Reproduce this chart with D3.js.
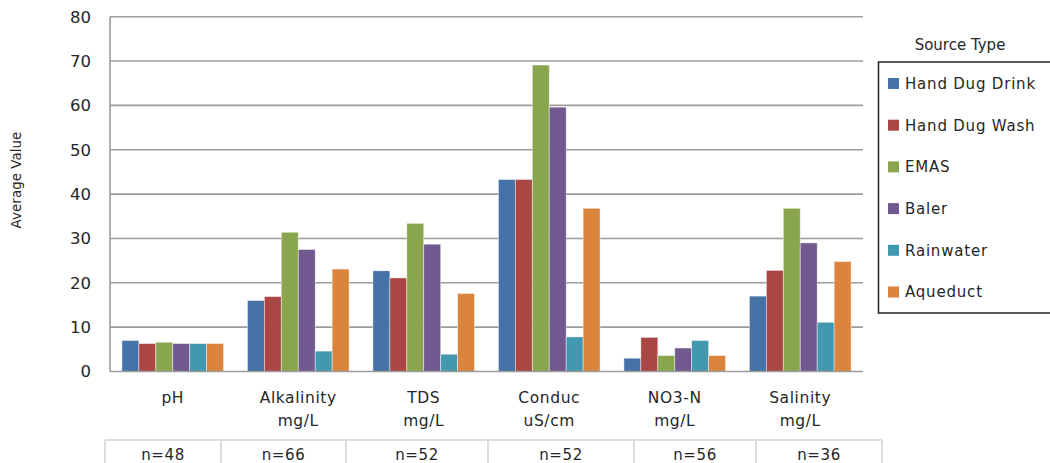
<!DOCTYPE html>
<html><head><meta charset="utf-8">
<script src="https://cdn.jsdelivr.net/npm/d3@7"></script>
<style>
html,body{margin:0;padding:0;background:#fff;}
svg{display:block;font-family:"DejaVu Sans",Verdana,sans-serif;}
</style></head>
<body><svg id="c" width="1050" height="463"></svg>
<script>
// ---- data ----
const categories = [["pH"],["Alkalinity","mg/L"],["TDS","mg/L"],["Conduc","uS/cm"],["NO3-N","mg/L"],["Salinity","mg/L"]];
const sampleSizes = ["n=48","n=66","n=52","n=52","n=56","n=36"];
const seriesNames = ["Hand Dug Drink","Hand Dug Wash","EMAS","Baler","Rainwater","Aqueduct"];
const handDugDrink = [7.0, 16.0, 22.7, 43.3, 3.0, 17.0];
const handDugWash  = [6.3, 16.9, 21.1, 43.3, 7.7, 22.8];
const emas         = [6.6, 31.4, 33.4, 69.1, 3.6, 36.8];
const baler        = [6.3, 27.5, 28.7, 59.6, 5.3, 29.0];
const rainwater    = [6.3, 4.6, 3.9, 7.8, 7.0, 11.1];
const aqueduct     = [6.3, 23.1, 17.6, 36.8, 3.6, 24.8];
const yTicks = [0,10,20,30,40,50,60,70,80];
const colors = ["#4572A7","#AA4643","#89A54E","#71588F","#4198AF","#DB843D"];

const seriesValues = [handDugDrink, handDugWash, emas, baler, rainwater, aqueduct];
const svg = d3.select("#c");
const L = 110, R = 863, T = 16.7, B = 371.5;
const y = d3.scaleLinear().domain([0,80]).range([B,T]);
const x0 = d3.scaleBand().domain(d3.range(categories.length)).range([L,R]).paddingInner(0.19).paddingOuter(0.095);
const x1 = d3.scaleBand().domain(d3.range(seriesNames.length)).range([0,x0.bandwidth()]);

// gridlines
svg.append("g").selectAll("line").data(yTicks.filter(d=>d>0)).join("line")
  .attr("x1",L).attr("x2",R).attr("y1",d=>y(d)).attr("y2",d=>y(d))
  .attr("stroke","#9c9c9c").attr("stroke-width",1.6);

// y tick labels
svg.append("g").selectAll("text").data(yTicks).join("text")
  .attr("x",91).attr("y",d=>y(d)).attr("dy","0.36em").attr("text-anchor","end")
  .attr("font-size",16.5).attr("fill","#262626").text(d=>d);

// bars
const g = svg.append("g");
categories.forEach((c,ci)=>{
  seriesValues.forEach((vals,si)=>{
    g.append("rect")
      .attr("x", x0(ci)+x1(si)).attr("width", x1.bandwidth())
      .attr("y", y(vals[ci])).attr("height", B - y(vals[ci]))
      .attr("fill", colors[si]).attr("stroke","rgba(255,255,255,0.55)").attr("stroke-width",0.8);
  });
});

// axes lines
svg.append("line").attr("x1",L).attr("x2",L).attr("y1",T).attr("y2",B).attr("stroke","#9c9c9c").attr("stroke-width",1.6);
svg.append("line").attr("x1",L).attr("x2",R).attr("y1",B).attr("y2",B).attr("stroke","#9c9c9c").attr("stroke-width",1.6);

// category labels
const cl = svg.append("g").attr("font-size",15.5).attr("fill","#262626").attr("text-anchor","middle").attr("letter-spacing","0.6px");
categories.forEach((lines,ci)=>{
  const cx = x0(ci)+x0.bandwidth()/2;
  lines.forEach((t,li)=>{
    cl.append("text").attr("x",cx).attr("y",403+li*23).text(t);
  });
});

// y-axis title
svg.append("text").attr("transform","translate(21,180) rotate(-90)").attr("text-anchor","middle")
  .attr("font-size",13.5).attr("fill","#262626").text("Average Value");

// n table
const tableEdges = [105,221,346,488,634,756,882];
const tg = svg.append("g");
tg.append("line").attr("x1",tableEdges[0]).attr("x2",tableEdges[tableEdges.length-1]).attr("y1",440).attr("y2",440).attr("stroke","#dcdcdc").attr("stroke-width",2);
tg.selectAll("line.v").data(tableEdges).join("line").attr("class","v")
  .attr("x1",d=>d).attr("x2",d=>d).attr("y1",440).attr("y2",470).attr("stroke","#dcdcdc").attr("stroke-width",2);
tg.selectAll("text").data(sampleSizes).join("text")
  .attr("x",(d,i)=>(tableEdges[i]+tableEdges[i+1])/2).attr("y",460)
  .attr("text-anchor","middle").attr("font-size",15).attr("fill","#262626").attr("letter-spacing","0.6px").text(d=>d);

// legend
svg.append("text").attr("x",960).attr("y",50).attr("text-anchor","middle").attr("font-size",15).attr("fill","#262626").text("Source Type");
svg.append("rect").attr("x",878.5).attr("y",62).attr("width",200).attr("height",251).attr("fill","#fff").attr("stroke","#222").attr("stroke-width",1.5);
const lg = svg.append("g");
seriesNames.forEach((n,i)=>{
  const cy = 83.5 + i*41.7;
  lg.append("rect").attr("x",888).attr("y",cy-5.5).attr("width",11).attr("height",11).attr("fill",colors[i]);
  lg.append("text").attr("x",905).attr("y",cy).attr("dy","0.36em").attr("font-size",15).attr("fill","#262626").attr("letter-spacing","0.8px").text(n);
});
</script></body></html>
